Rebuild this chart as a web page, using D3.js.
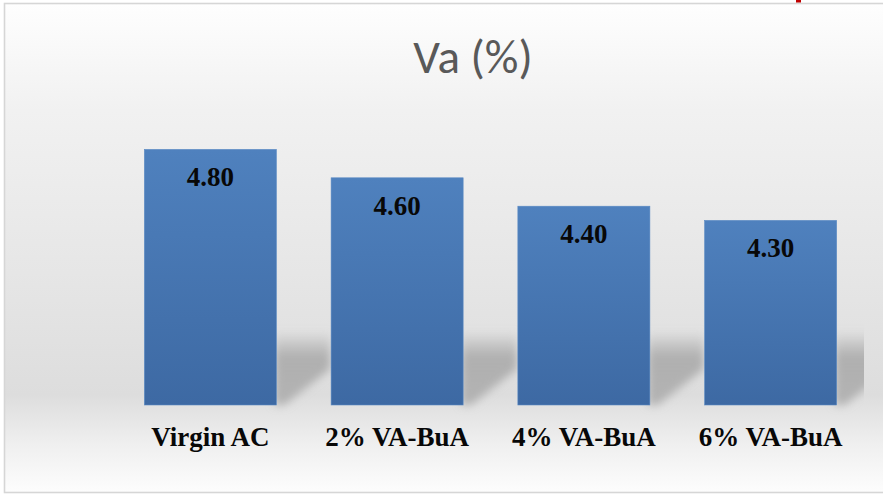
<!DOCTYPE html>
<html><head><meta charset="utf-8">
<script src="https://cdn.jsdelivr.net/npm/d3@7"></script>
<style>html,body{margin:0;padding:0;background:#fff;overflow:hidden}</style>
</head><body><svg id="c" width="883" height="495"></svg>
<script>
const categories = ["Virgin AC", "2% VA-BuA", "4% VA-BuA", "6% VA-BuA"];
const values = [4.80, 4.60, 4.40, 4.30];
const valueLabels = ["4.80", "4.60", "4.40", "4.30"];
const title = "Va (%)";

const svg = d3.select("#c");
const defs = svg.append("defs");

const bg = defs.append("linearGradient").attr("id","bg").attr("x1",0).attr("y1",0).attr("x2",0).attr("y2",1);
[[0,"#fefefe"],[0.22,"#f1f1f1"],[0.55,"#e6e6e6"],[0.8,"#dddddd"],[0.9,"#efefef"],[1,"#fdfdfd"]]
  .forEach(([o,c])=>bg.append("stop").attr("offset",o).attr("stop-color",c));

const bar = defs.append("linearGradient").attr("id","bar").attr("x1",0).attr("y1",0).attr("x2",0).attr("y2",1);
[[0,"#4f81be"],[1,"#3d69a3"]].forEach(([o,c])=>bar.append("stop").attr("offset",o).attr("stop-color",c));

const sh = defs.append("linearGradient").attr("id","sh").attr("x1",0).attr("y1",0).attr("x2",0).attr("y2",1);
[[0,"#a4a4a4",0],[0.35,"#a4a4a4",0.8],[1,"#acacac",0.85]].forEach(([o,c,a])=>sh.append("stop").attr("offset",o).attr("stop-color",c).attr("stop-opacity",a));

defs.append("filter").attr("id","blur").attr("x","-30%").attr("y","-30%").attr("width","160%").attr("height","160%")
  .append("feGaussianBlur").attr("stdDeviation",4.5);

const x = d3.scaleBand().domain(categories).range([117, 864]).paddingInner(0.293).paddingOuter(0.1465);
const y = d3.scaleLinear().domain([3, 5]).range([405, 121]);

// chart area
svg.append("rect").attr("x",4.5).attr("y",3.5).attr("width",900).attr("height",489)
  .attr("fill","url(#bg)").attr("stroke","#d6d6d6").attr("stroke-width",1.6);
svg.append("rect").attr("x",796).attr("y",0).attr("width",5).attr("height",2.5).attr("fill","#c00000");

svg.append("text").attr("x",473).attr("y",73).attr("text-anchor","middle")
  .attr("font-family","Carlito, 'Liberation Sans Narrow', 'Open Sans', sans-serif")
  .attr("font-size",47).attr("fill","#595959").text(title);

defs.append("clipPath").attr("id","plot").append("rect").attr("x",117).attr("y",100).attr("width",747).attr("height",320);

const shadows = svg.append("g").attr("clip-path","url(#plot)");
shadows.selectAll("path").data(categories).join("path")
  .attr("filter","url(#blur)")
  .attr("fill","url(#sh)")
  .attr("d", d => {
    const R = x(d) + x.bandwidth();
    const b = y(3);
    return `M${R-2},${b-74} L${R+54},${b-74} L${R+54},${b-36} L${R+8},${b} L${R-2},${b} Z`;
  });

svg.append("g").selectAll("rect").data(categories).join("rect")
  .attr("x", d=>x(d)).attr("width", x.bandwidth())
  .attr("y", (d,i)=>y(values[i])).attr("height", (d,i)=>y(3)-y(values[i]))
  .attr("fill","url(#bar)").attr("stroke","#5a8ac4").attr("stroke-width",0.6);

svg.append("g").selectAll("text").data(categories).join("text")
  .attr("x", d=>x(d)+x.bandwidth()/2).attr("y",(d,i)=>y(values[i])+37)
  .attr("text-anchor","middle").attr("font-family","'Liberation Serif', 'Times New Roman', serif")
  .attr("font-weight","bold").attr("font-size",27).attr("fill","#080808")
  .text((d,i)=>valueLabels[i]);

svg.append("g").selectAll("text").data(categories).join("text")
  .attr("x", d=>x(d)+x.bandwidth()/2).attr("y",446)
  .attr("text-anchor","middle").attr("font-family","'Liberation Serif', 'Times New Roman', serif")
  .attr("font-weight","bold").attr("font-size",27).attr("fill","#080808")
  .text(d=>d);
</script></body></html>
